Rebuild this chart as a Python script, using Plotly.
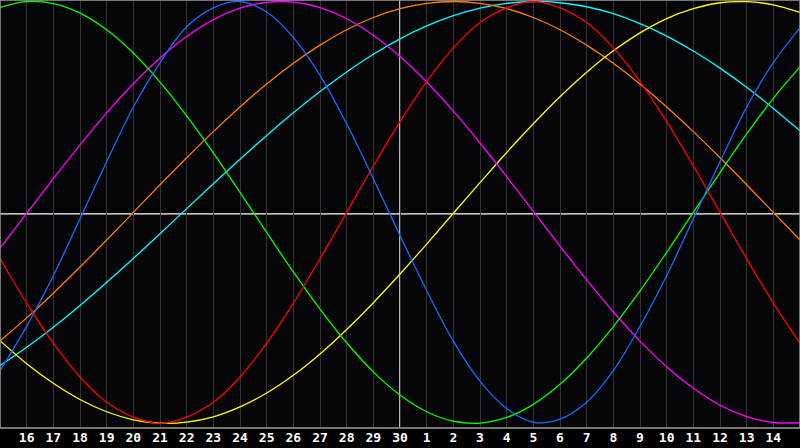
import plotly.graph_objects as go

# Day positions (0..30) and the date labels shown under gridlines 1..29
days = list(range(31))
tick_pos = list(range(1, 30))
tick_labels = ["16", "17", "18", "19", "20", "21", "22", "23", "24", "25", "26", "27", "28", "29", "30",
               "1", "2", "3", "4", "5", "6", "7", "8", "9", "10", "11", "12", "13", "14"]

# Values at each day (-1 .. 1)
physical = [-0.75, -0.54, -0.30, -0.03, 0.24, 0.50, 0.71, 0.88, 0.97, 1.00, 0.95, 0.83, 0.65, 0.42, 0.16,
            -0.11, -0.37, -0.61, -0.80, -0.93, -0.995, -0.98, -0.90, -0.75, -0.54, -0.30, -0.03, 0.24, 0.50, 0.71, 0.875]
emotional = [-0.22, -0.43, -0.62, -0.78, -0.90, -0.97, -1.00, -0.97, -0.90, -0.78, -0.62, -0.43, -0.22, 0.0, 0.22,
             0.43, 0.62, 0.78, 0.90, 0.97, 1.00, 0.97, 0.90, 0.78, 0.62, 0.43, 0.22, 0.0, -0.22, -0.43, -0.62]
intellectual = [0.972, 0.999, 0.99, 0.945, 0.866, 0.756, 0.618, 0.458, 0.282, 0.095, -0.095, -0.282, -0.458, -0.618, -0.756,
                -0.866, -0.945, -0.99, -0.999, -0.972, -0.91, -0.815, -0.69, -0.541, -0.372, -0.189, 0.0, 0.189, 0.372, 0.541, 0.69]
intuitive = [-0.169, -0.005, 0.16, 0.32, 0.472, 0.61, 0.732, 0.834, 0.914, 0.968, 0.996, 0.997, 0.971, 0.918, 0.84,
             0.739, 0.618, 0.48, 0.329, 0.169, 0.005, -0.16, -0.32, -0.472, -0.61, -0.732, -0.834, -0.914, -0.968, -0.996, -0.997]
awareness = [-0.609, -0.5, -0.383, -0.259, -0.131, 0.0, 0.131, 0.259, 0.383, 0.5, 0.609, 0.707, 0.793, 0.866, 0.924,
             0.966, 0.991, 1.0, 0.991, 0.966, 0.924, 0.866, 0.793, 0.707, 0.609, 0.5, 0.383, 0.259, 0.131, 0.0, -0.131]
spiritual = [-0.726, -0.639, -0.544, -0.441, -0.331, -0.218, -0.101, 0.018, 0.136, 0.252, 0.365, 0.472, 0.573, 0.666, 0.75,
             0.823, 0.884, 0.933, 0.969, 0.991, 1.0, 0.994, 0.975, 0.942, 0.895, 0.836, 0.765, 0.684, 0.593, 0.493, 0.387]
aesthetic = [-0.608, -0.717, -0.81, -0.887, -0.945, -0.983, -0.999, -0.994, -0.969, -0.922, -0.856, -0.772, -0.671, -0.555, -0.428,
             -0.292, -0.15, -0.004, 0.141, 0.284, 0.42, 0.548, 0.664, 0.766, 0.851, 0.919, 0.966, 0.994, 0.999, 0.984, 0.948]

series = [
    ("Spiritual", spiritual, "#00ffff"),
    ("Awareness", awareness, "#ff8000"),
    ("Aesthetic", aesthetic, "#ffff00"),
    ("Intuitive", intuitive, "#ff00ff"),
    ("Intellectual", intellectual, "#00ff00"),
    ("Emotional", emotional, "#ff0000"),
    ("Physical", physical, "#1a6aff"),
]

fig = go.Figure()
for name, vals, color in series:
    fig.add_trace(go.Scatter(x=days, y=vals, mode="lines", name=name,
                             line=dict(color=color, width=1.3, shape="spline", smoothing=1.0),
                             hoverinfo="skip"))

fig.add_shape(type="line", xref="x", yref="paper", x0=15, x1=15, y0=0, y1=1,
              line=dict(color="#ffffff", width=1.4), layer="between")
fig.add_shape(type="line", xref="paper", yref="y", x0=0, x1=1, y0=-0.007, y1=-0.007,
              line=dict(color="#ffffff", width=1.4), layer="between")
fig.add_shape(type="rect", xref="paper", yref="paper", x0=0, x1=1, y0=0, y1=1,
              line=dict(color="#9a9a9a", width=1.5), layer="above")

fig.update_layout(
    width=800, height=448,
    margin=dict(l=0, r=0, t=0, b=20),
    paper_bgcolor="#000000",
    plot_bgcolor="#060609",
    showlegend=False,
    xaxis=dict(range=[0, 30], tickmode="array", tickvals=tick_pos, ticktext=tick_labels,
               showgrid=True, gridcolor="#333333", gridwidth=1, zeroline=False,
               ticks="", ticklen=0, showline=False,
               tickfont=dict(family="DejaVu Sans Mono", size=13, color="#ffffff", weight="bold"),
               fixedrange=True),
    yaxis=dict(range=[-1.022, 1.007], showgrid=False, zeroline=False, showticklabels=False,
               ticks="", showline=False, fixedrange=True),
)

fig.write_html("out.html", config={"displayModeBar": False},
               post_script="document.body.style.margin='0';document.body.style.background='#000';")
